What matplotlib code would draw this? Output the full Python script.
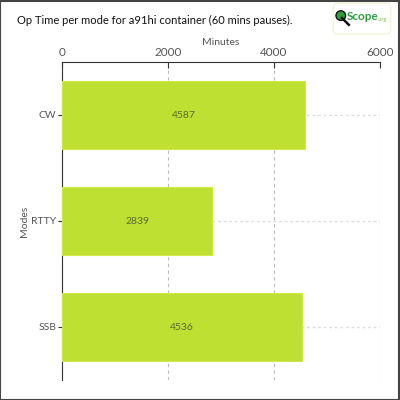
import matplotlib
matplotlib.use("Agg")
import matplotlib.pyplot as plt
from matplotlib.patches import FancyBboxPatch, Rectangle, Circle
from matplotlib.lines import Line2D

modes = ["CW", "RTTY", "SSB"]
minutes = [4587, 2839, 4536]
xticks = [0, 2000, 4000, 6000]

plt.rcParams['font.family'] = ['Lato', 'DejaVu Sans']

fig = plt.figure(figsize=(4, 4), dpi=100)
ax = fig.add_axes([0.155, 0.05, 0.795, 0.795])

ax.set_xlim(0, 6000)
ax.set_ylim(2.5, -0.5)

ypos = list(range(len(modes)))
bars = ax.barh(ypos, minutes, height=0.64, color='#bde032', edgecolor='#cfe94a', linewidth=0.8, zorder=3)
for b, v in zip(bars, minutes):
    ax.text(v / 2, b.get_y() + b.get_height() / 2, str(v), ha='center', va='center',
            fontsize=7.5, color='#5b6b35', zorder=4)

ax.xaxis.tick_top()
ax.xaxis.set_label_position('top')
ax.set_xticks(xticks)
ax.set_xticklabels([str(t) for t in xticks], fontsize=8.5, color='#555555')
ax.set_xlabel('Minutes', fontsize=7.5, color='#555555', labelpad=1)
ax.set_yticks(ypos)
ax.set_yticklabels(modes, fontsize=7.5, color='#555555')
ax.set_ylabel('Modes', fontsize=7.5, color='#555555', labelpad=0)
ax.yaxis.set_label_coords(-0.105, 0.5)
ax.tick_params(axis='x', direction='in', length=4, width=0.8, color='#333333', pad=3)
ax.tick_params(axis='y', length=3, width=0.8, color='#333333', pad=1)

for s in ['right', 'bottom']:
    ax.spines[s].set_visible(False)
ax.spines['top'].set_color('#333333')
ax.spines['left'].set_color('#333333')

for t in xticks[1:]:
    ax.axvline(t, color='#bbbbbb', linestyle=(0, (3, 3)), linewidth=0.8, zorder=1)
for y in ypos:
    ax.axhline(y, color='#dddddd', linestyle=(0, (2, 2)), linewidth=1.0, zorder=1)

fig.text(0.043, 0.95, 'Op Time per mode for a91hi container (60 mins pauses).',
         fontsize=8.0, color='#111111', ha='left', va='center')

# logo
fig.patches.append(FancyBboxPatch((0.835, 0.917), 0.14, 0.073, boxstyle='round,pad=0.002,rounding_size=0.012',
                                  transform=fig.transFigure, facecolor='white', edgecolor='#eef5d0', linewidth=0.8))
fig.lines.append(Line2D([0.855, 0.872], [0.955, 0.938], transform=fig.transFigure, color='#111111', linewidth=1.8))
fig.patches.append(Circle((0.852, 0.961), 0.012, transform=fig.transFigure, facecolor='#2e9e3e', edgecolor='#111111', linewidth=1))
fig.text(0.866, 0.958, 'Scope', fontsize=8.5, color='#2e9e3e', weight='bold', ha='left', va='center')
fig.text(0.945, 0.95, '.org', fontsize=4, color='#7fbf3f', ha='left', va='center')

fig.patches.append(Rectangle((0.001, 0.001), 0.997, 0.997, transform=fig.transFigure, fill=False,
                             edgecolor='#444444', linewidth=1.5))

fig.savefig('out.png', dpi=100)
